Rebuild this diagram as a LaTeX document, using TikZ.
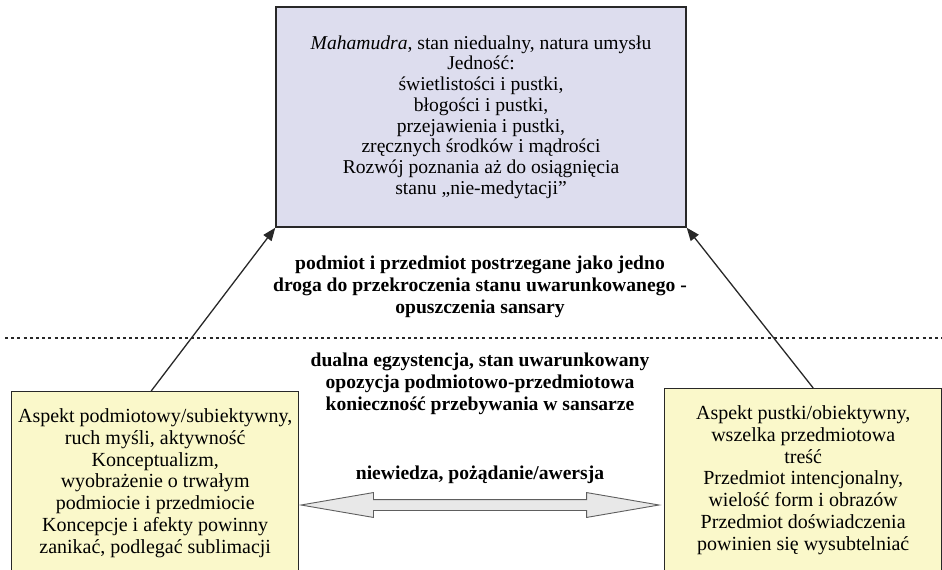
\documentclass[tikz,border=0pt]{standalone}
\usepackage{fontspec}
\setmainfont{Liberation Serif}
\usetikzlibrary{arrows.meta,positioning,calc,shapes.arrows}
\definecolor{boxlila}{RGB}{221,221,238}
\definecolor{boxzolty}{RGB}{250,248,202}
\definecolor{ramka}{RGB}{40,40,40}
\definecolor{strzalka}{RGB}{232,232,232}
\tikzset{
  topbox/.style={rectangle, draw=ramka, fill=boxlila, line width=1.4pt,
                 minimum width=410pt, minimum height=220pt, inner sep=0pt,
                 align=center, font=\fontsize{19.6}{20.7}\selectfont},
  sidebox/.style={rectangle, draw=ramka, fill=boxzolty, line width=1.4pt,
                  inner ysep=17pt, inner xsep=0pt, align=center,
                  font=\fontsize{20}{21.8}\selectfont},
  midlabel/.style={align=center, inner sep=0pt,
                   font=\fontsize{19.6}{21.7}\selectfont\bfseries},
  uparrow/.style={-{Triangle[length=13pt,width=10pt]}, line width=1.3pt, ramka},
  dualarrow/.style={double arrow, draw=ramka!75, fill=strzalka, line width=0.9pt,
                    minimum width=24pt, minimum height=358pt,
                    inner ysep=5pt, inner xsep=0pt,
                    double arrow head extend=7pt, double arrow tip angle=19.5},
  granica/.style={line width=2.6pt, dash pattern=on 3pt off 3.2pt, ramka},
}
\begin{document}
\begin{tikzpicture}[x=1pt, y=-1pt]
\useasboundingbox (0,0) rectangle (942,570);
% stan niedualny
\node[topbox] (mahamudra) at (481,117) {\textit{Mahamudra}, stan niedualny, natura umysłu\\
  Jedność:\\ świetlistości i pustki,\\ błogości i pustki,\\ przejawienia i pustki,\\
  zręcznych środków i mądrości\\ Rozwój poznania aż do osiągnięcia\\ stanu „nie-medytacji”};
% dwa aspekty
\node[sidebox, minimum width=287pt, anchor=north west] (podmiot) at (11,391)
  {Aspekt podmiotowy/subiektywny,\\ ruch myśli, aktywność\\ Konceptualizm,\\
   wyobrażenie o trwałym\\ podmiocie i przedmiocie\\ Koncepcje i afekty powinny\\
   zanikać, podlegać sublimacji};
\node[sidebox, minimum width=277pt, anchor=north west] (przedmiot) at (664,388)
  {Aspekt pustki/obiektywny,\\ wszelka przedmiotowa\\ treść\\ Przedmiot intencjonalny,\\
   wielość form i obrazów\\ Przedmiot doświadczenia\\ powinien się wysubtelniać};
% granica
\coordinate (granicaL) at (5,338);
\coordinate (granicaP) at (942,338);
\draw[granica] (granicaL) -- (granicaP);
% opisy
\node[midlabel] (jedno) at (480,287) {podmiot i przedmiot postrzegane jako jedno\\
  droga do przekroczenia stanu uwarunkowanego -\\ opuszczenia sansary};
\node[midlabel] (dualna) at (480,384) {dualna egzystencja, stan uwarunkowany\\
  opozycja podmiotowo-przedmiotowa\\ konieczność przebywania w sansarze};
\node[midlabel] (niewiedza) at (480,475) {niewiedza, pożądanie/awersja};
\node[dualarrow] (opozycja) at (480,505) {};
% strzałki
\draw[uparrow] ([xshift=-4pt]podmiot.north) -- (mahamudra.south west);
\draw[uparrow] ([xshift=10pt]przedmiot.north) -- (mahamudra.south east);
\end{tikzpicture}
\end{document}
